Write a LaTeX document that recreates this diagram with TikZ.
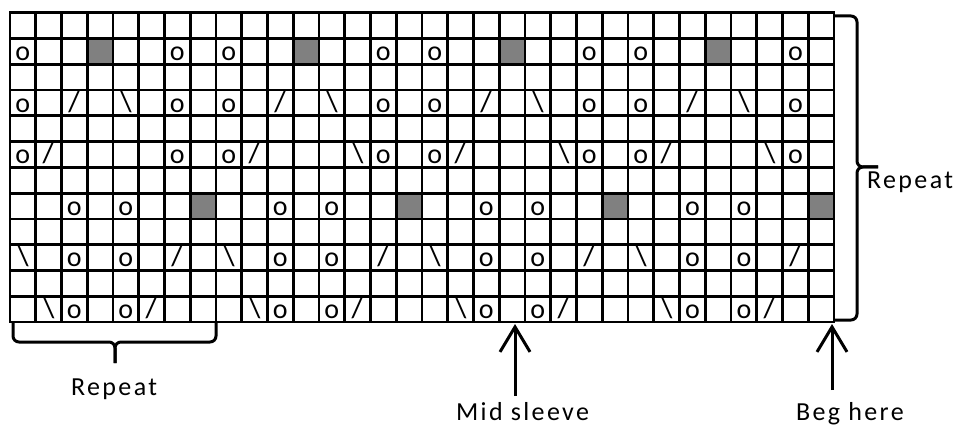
\documentclass[tikz,border=0pt]{standalone}
\usepackage{fontspec}
\setmainfont{Carlito}
\newfontfamily\lblfont[LetterSpace=9]{Carlito}
\usetikzlibrary{arrows.meta}
\newcommand\symrow[3]{\foreach \c in {#2} {\node[cell] (s#1-\c) at ({10+(\c-0.5)*25.75},{12.7+(#1-1)*25.78+22}) {#3};}}
\newcommand\slashrow[3]{\foreach \c in {#2} {\node[cell, slashfont] (s#1-\c) at ({10+(\c-0.5)*25.75},{12.7+(#1-1)*25.78+21}) {#3};}}
\newcommand\shaderow[2]{\foreach \c in {#2} {\fill[shade] ({10+(\c-1)*25.75},{12.7+(#1-1)*25.78}) rectangle ++(25.75,25.78);}}
\begin{document}
\begin{tikzpicture}[x=1pt,y=-1pt,
  gridline/.style={line width=2.8pt, line cap=rect},
  cell/.style={inner sep=0pt, anchor=base, font=\fontsize{28}{28}\selectfont},
  slashfont/.style={font=\fontsize{31}{31}\selectfont},
  shade/.style={fill=black!50},
  lbl/.style={inner sep=0pt, anchor=base west, font=\lblfont\fontsize{26}{26}\selectfont},
  brace/.style={line width=3pt, rounded corners=6pt},
  arr/.style={line width=3pt, -{Straight Barb[length=25pt,width=30pt]}}]
\useasboundingbox[fill=white] (0,0) rectangle (964,425);
% shaded cells
\shaderow{2}{4,12,20,28}
\shaderow{8}{8,16,24,32}
% grid
\foreach \i in {0,...,32} {\draw[gridline] ({10+\i*25.75},12.7) -- ({10+\i*25.75},322.06);}
\foreach \j in {0,...,12} {\draw[gridline] (10,{12.7+\j*25.78}) -- (834,{12.7+\j*25.78});}
% symbols
\symrow{2}{1,7,9,15,17,23,25,31}{o}
\symrow{4}{1,7,9,15,17,23,25,31}{o}
\slashrow{4}{3,11,19,27}{/}
\slashrow{4}{5,13,21,29}{\textbackslash}
\symrow{6}{1,7,9,15,17,23,25,31}{o}
\slashrow{6}{2,10,18,26}{/}
\slashrow{6}{14,22,30}{\textbackslash}
\symrow{8}{3,5,11,13,19,21,27,29}{o}
\symrow{10}{3,5,11,13,19,21,27,29}{o}
\slashrow{10}{1,9,17,25}{\textbackslash}
\slashrow{10}{7,15,23,31}{/}
\symrow{12}{3,5,11,13,19,21,27,29}{o}
\slashrow{12}{2,10,18,26}{\textbackslash}
\slashrow{12}{6,14,22,30}{/}
% braces
\draw[brace] (835,16) -- (857,16) -- (857,167) -- (878,167);
\draw[brace] (878,167) -- (857,167) -- (857,320) -- (835,320);
\draw[brace] (13,322) -- (13,342) -- (115,342) -- (115,363);
\draw[brace] (115,363) -- (115,342) -- (216,342) -- (216,322);
% labels
\node[lbl] (rep1) at (867,188) {Repeat};
\node[lbl] (rep2) at (71,395) {Repeat};
\node[lbl] (mid) at (456,420) {Mid sleeve};
\node[lbl] (beg) at (796,420) {Beg here};
% arrows
\coordinate (midtail) at (515,396);
\coordinate (midtip) at (515,324);
\coordinate (begtail) at (832,390);
\coordinate (begtip) at (832,324);
\draw[arr] (midtail) -- (midtip);
\draw[arr] (begtail) -- (begtip);
\end{tikzpicture}
\end{document}
